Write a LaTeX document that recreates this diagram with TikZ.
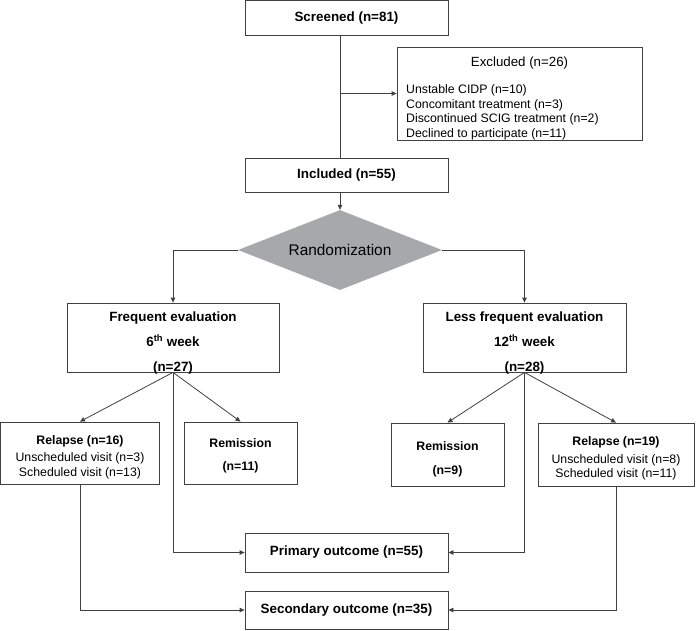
\documentclass[tikz,border=0pt]{standalone}
\usepackage{fontspec}
\setmainfont{Liberation Sans}
\usepackage{tikz}
\usetikzlibrary{arrows.meta,shapes.geometric,positioning}

\begin{document}
\begin{tikzpicture}[x=1pt,y=-1pt,
  box/.style={draw=black!75,line width=0.8pt,inner sep=0pt},
  big/.style={font=\fontsize{13.4}{16}\selectfont\bfseries,inner sep=0pt},
  mid/.style={font=\fontsize{13.3}{16}\selectfont,inner sep=0pt},
  small/.style={font=\fontsize{12.3}{14.6}\selectfont,inner sep=0pt},
  ln/.style={draw=black!75,line width=0.8pt},
  arr/.style={ln,-{Triangle[length=5pt,width=4.5pt]}}]
\useasboundingbox (0,0) rectangle (697,630);
\node[box,big,minimum width=203pt,minimum height=35pt] (scr) at (346.5,18) {Screened (n=81)};
\node[box,minimum width=245pt,minimum height=93pt] (exc) at (519.5,93.5) {};
\node[mid] (exctitle) at (519.5,63) {Excluded (n=26)};
\node[small,font=\fontsize{12.3}{14.9}\selectfont,align=left,anchor=north west] (exclist) at (406,84) {Unstable CIDP (n=10)\\Concomitant treatment (n=3)\\Discontinued SCIG treatment (n=2)\\Declined to participate (n=11)};
\node[box,big,minimum width=203pt,minimum height=34pt] (inc) at (346.5,175) {Included (n=55)};
\node[diamond,aspect=2.55,fill={rgb,255:red,167;green,168;blue,171},inner sep=0pt,
  minimum width=204pt,minimum height=80pt,font=\fontsize{15.4}{18}\selectfont] (rand) at (340,250) {Randomization};
\node[box,minimum width=212pt,minimum height=69pt] (freq) at (173,337.5) {};
\node[big,align=center] (freqtxt) at (173,343.5) {Frequent evaluation\\[9pt]6\textsuperscript{th} week\\[9pt](n=27)};
\node[box,minimum width=203pt,minimum height=69pt] (less) at (524.5,337.5) {};
\node[big,align=center] (lesstxt) at (524.5,343.5) {Less frequent evaluation\\[9pt]12\textsuperscript{th} week\\[9pt](n=28)};
\node[box,minimum width=159pt,minimum height=62pt] (rel1) at (80,453) {};
\node[small,align=center] (rel1txt) at (80,457) {\bfseries Relapse (n=16)\\[3pt]Unscheduled visit (n=3)\\Scheduled visit (n=13)};
\node[box,minimum width=113pt,minimum height=62pt] (rem1) at (240.5,453) {};
\node[small,align=center] (rem1txt) at (240.5,456) {\bfseries Remission\\[9pt]\bfseries (n=11)};
\node[box,minimum width=113pt,minimum height=63pt] (rem2) at (447.5,454.5) {};
\node[small,align=center] (rem2txt) at (447.5,459.5) {\bfseries Remission\\[9pt]\bfseries (n=9)};
\node[box,minimum width=156pt,minimum height=63pt] (rel2) at (616,454.5) {};
\node[small,align=center] (rel2txt) at (616,458.5) {\bfseries Relapse (n=19)\\[3pt]Unscheduled visit (n=8)\\Scheduled visit (n=11)};
\node[box,big,minimum width=203pt,minimum height=39pt] (prim) at (346.5,552.5) {Primary outcome (n=55)};
\node[box,big,minimum width=203pt,minimum height=38pt] (sec) at (346.5,610) {Secondary outcome (n=35)};
\draw[ln] (scr.south -| rand.north) -- (inc.north -| rand.north);
\draw[arr] (exc.west -| rand.north) -- (exc.west);
\draw[arr] (inc.south -| rand.north) -- (rand.north);
\draw[arr] (rand.west) -| (freq.north);
\draw[arr] (rand.east) -| (less.north);
\draw[arr] (freq.south) -- (rel1.north);
\draw[arr] (freq.south) -- (rem1.north);
\draw[arr] (freq.south) |- (prim.west);
\draw[arr] (less.south) -- (rem2.north);
\draw[arr] (less.south) -- (rel2.north);
\draw[arr] (less.south) |- (prim.east);
\draw[arr] (rel1.south) |- (sec.west);
\draw[arr] (rel2.south) |- (sec.east);
\end{tikzpicture}
\end{document}
